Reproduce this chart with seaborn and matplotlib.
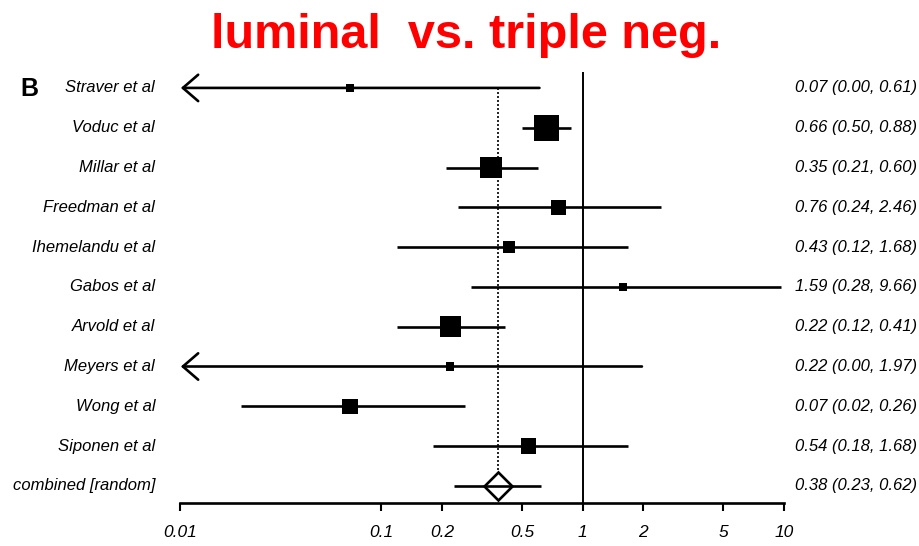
import numpy as np
import pandas as pd
import seaborn as sns
import matplotlib
matplotlib.use("Agg")
import matplotlib.pyplot as plt
from matplotlib import font_manager

studies = ["Straver et al", "Voduc et al", "Millar et al", "Freedman et al",
           "Ihemelandu et al", "Gabos et al", "Arvold et al", "Meyers et al",
           "Wong et al", "Siponen et al"]
odds_ratio = [0.07, 0.66, 0.35, 0.76, 0.43, 1.59, 0.22, 0.22, 0.07, 0.54]
ci_low = [0.00, 0.50, 0.21, 0.24, 0.12, 0.28, 0.12, 0.00, 0.02, 0.18]
ci_high = [0.61, 0.88, 0.60, 2.46, 1.68, 9.66, 0.41, 1.97, 0.26, 1.68]
weight_pct = [2.6, 25.2, 17.8, 9.1, 5.8, 2.6, 16.1, 2.6, 9.1, 9.1]

pooled_label = "combined [random]"
pooled_or = 0.38
pooled_low = 0.23
pooled_high = 0.62

tick_values = [0.01, 0.1, 0.2, 0.5, 1, 2, 5, 10]
tick_labels = ["0.01", "0.1", "0.2", "0.5", "1", "2", "5", "10"]

sns.set_style("white")
available = {f.name for f in font_manager.fontManager.ttflist}
narrow = "Liberation Sans Narrow" if "Liberation Sans Narrow" in available else "Liberation Sans"
plt.rcParams["font.family"] = [narrow, "DejaVu Sans"]
plt.rcParams["text.color"] = "black"
plt.rcParams["xtick.color"] = "black"

df = pd.DataFrame({"study": studies, "or": odds_ratio, "lo": ci_low,
                   "hi": ci_high, "weight": weight_pct})
df["row"] = np.arange(len(df))
pooled_row = len(df)

fig = plt.figure(figsize=(9.19, 5.46), dpi=100)
ax = fig.add_axes([180 / 919, 1 - 503 / 546, 604 / 919, (503 - 72) / 546])
ax.set_xscale("log")
ax.set_xlim(0.01, 10)
ax.set_ylim(pooled_row + 0.43, -0.4)

# reference lines: no effect and pooled estimate
ax.axvline(1, color="black", lw=1.4, zorder=1)
ax.plot([pooled_or, pooled_or], [0, pooled_row - 0.3], color="black",
        lw=1.2, ls=(0, (1.2, 1.2)), zorder=1)

# confidence intervals; a zero lower bound runs off the left edge as an arrow
for _, r in df.iterrows():
    if r["lo"] <= 0:
        ax.annotate("", xy=(0.0101, r["row"]), xytext=(r["hi"], r["row"]),
                    arrowprops=dict(arrowstyle="->,head_length=1.1,head_width=0.95",
                                    lw=1.9, color="black", shrinkA=0, shrinkB=0))
    else:
        ax.plot([r["lo"], r["hi"]], [r["row"], r["row"]], color="black",
                lw=1.9, solid_capstyle="butt", zorder=2)

# study estimates, square area proportional to weight
wmax = max(weight_pct)
sns.scatterplot(data=df, x="or", y="row", size="weight", sizes=(0, wmax * 13.5),
                size_norm=(0, wmax), marker="s", color="black", edgecolor="none",
                legend=False, ax=ax, zorder=3)

# pooled estimate
ax.plot([pooled_low, pooled_high], [pooled_row, pooled_row], color="black",
        lw=1.9, solid_capstyle="butt", zorder=2)
ax.plot([pooled_or], [pooled_row], marker="D", ms=14, mfc="none", mec="black",
        mew=1.9, zorder=4)

# axis styling
for side in ["top", "right", "left"]:
    ax.spines[side].set_visible(False)
ax.spines["bottom"].set_linewidth(1.9)
ax.spines["bottom"].set_color("black")
ax.set_yticks([])
ax.set_xticks(tick_values)
ax.set_xticklabels(tick_labels, fontstyle="italic", fontsize=12.5)
ax.xaxis.set_minor_locator(matplotlib.ticker.NullLocator())
ax.tick_params(axis="x", direction="out", length=6, width=1.5, color="black",
               labelcolor="black", pad=10, bottom=True)
ax.set_xlabel("")
ax.set_ylabel("")

# row labels and estimates
trans = matplotlib.transforms.blended_transform_factory(ax.transAxes, ax.transData)
labels = studies + [pooled_label]
vals = list(zip(odds_ratio, ci_low, ci_high)) + [(pooled_or, pooled_low, pooled_high)]
for i, (lab, (o, l, h)) in enumerate(zip(labels, vals)):
    ax.text(-0.041, i, lab, transform=trans, ha="right", va="center",
            fontstyle="italic", fontsize=12, color="black", clip_on=False)
    ax.text(1.018, i, f"{o:.2f} ({l:.2f}, {h:.2f})", transform=trans,
            ha="left", va="center", fontstyle="italic", fontsize=12,
            color="black", clip_on=False)

fig.text(20 / 919, 1 - 89 / 546, "B", fontsize=18, fontweight="bold", color="black",
         family=["Liberation Sans", "DejaVu Sans"], va="center", ha="left")
fig.text(466 / 919, 1 - 35 / 546, "luminal  vs. triple neg.", color="#ff0000",
         fontsize=35, fontweight="bold", family=["Liberation Sans", "DejaVu Sans"],
         ha="center", va="center")

fig.savefig("out.png", dpi=100, facecolor="white")
